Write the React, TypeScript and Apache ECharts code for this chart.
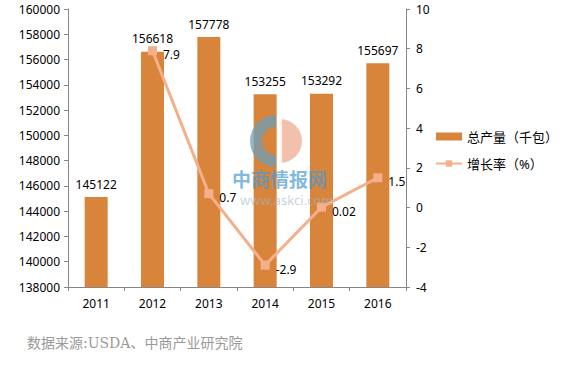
import React, { useEffect, useRef } from "react";
import * as echarts from "echarts";

const categories = ["2011", "2012", "2013", "2014", "2015", "2016"];
const production = [145122, 156618, 157778, 153255, 153292, 155697];
const growth: (number | null)[] = [null, 7.9, 0.7, -2.9, 0.02, 1.5];
const seriesNames = ["总产量（千包）", "增长率（%）"];
const sourceText = "数据来源:USDA、中商产业研究院";

export default function App() {
  const ref = useRef<HTMLDivElement>(null);
  useEffect(() => {
    if (!ref.current) return;
    const chart = echarts.init(ref.current, null, { renderer: "svg" });
    const font = "'Noto Sans', 'Noto Sans CJK SC', sans-serif";
    chart.setOption({
      animation: false,
      backgroundColor: "#ffffff",
      textStyle: { fontFamily: font },
      grid: { left: 68, right: 174, top: 9, bottom: 80 },
      legend: {
        orient: "vertical",
        left: 430,
        top: 125,
        itemWidth: 26,
        itemHeight: 8,
        itemGap: 14,
        textStyle: { fontSize: 13, color: "#000", fontFamily: font },
        data: [
          { name: seriesNames[0], icon: "rect" },
          { name: seriesNames[1] },
        ],
      },
      xAxis: {
        type: "category",
        data: categories,
        axisLine: { onZero: false, lineStyle: { color: "#868686" } },
        axisTick: { show: true, length: 4, lineStyle: { color: "#868686" } },
        axisLabel: { color: "#000", fontSize: 12, margin: 10 },
      },
      yAxis: [
        {
          type: "value",
          min: 138000,
          max: 160000,
          interval: 2000,
          splitLine: { show: false },
          axisLine: { show: true, lineStyle: { color: "#868686" } },
          axisTick: { show: true, length: 4, lineStyle: { color: "#868686" } },
          axisLabel: { color: "#000", fontSize: 12, margin: 8, formatter: (v: number) => String(v) },
        },
        {
          type: "value",
          min: -4,
          max: 10,
          interval: 2,
          splitLine: { show: false },
          axisLine: { show: true, lineStyle: { color: "#868686" } },
          axisTick: { show: true, length: 4, lineStyle: { color: "#868686" } },
          axisLabel: { color: "#000", fontSize: 12, margin: 10 },
        },
      ],
      series: [
        {
          name: seriesNames[0],
          type: "bar",
          data: production,
          barWidth: 23,
          itemStyle: { color: "#d9843b" },
          label: { show: true, position: "top", color: "#000", fontSize: 12, distance: 7 },
          z: 2,
        },
        {
          name: seriesNames[1],
          type: "line",
          yAxisIndex: 1,
          data: growth,
          symbol: "rect",
          symbolSize: 9,
          lineStyle: { color: "#f4b08a", width: 3 },
          itemStyle: { color: "#f4b08a" },
          label: { show: true, position: "right", color: "#000", fontSize: 12, distance: 6, offset: [0, 4] },
          z: 3,
        },
      ],
      graphic: [
        {
          type: "text",
          left: 27,
          top: 336,
          style: {
            text: sourceText,
            fill: "#9a9a9a",
            fontSize: 14,
            fontFamily: "'DejaVu Serif', 'Noto Sans CJK SC', serif",
          },
        },
        {
          type: "sector",
          z: 100,
          shape: { cx: 276, cy: 141, r0: 14, r: 26, startAngle: Math.PI / 2, endAngle: (3 * Math.PI) / 2 },
          style: { fill: "#6f9db8", opacity: 0.75 },
        },
        {
          type: "sector",
          z: 100,
          shape: { cx: 280, cy: 141, r0: 0, r: 22, startAngle: -Math.PI / 2, endAngle: Math.PI / 2 },
          style: { fill: "#f2b5a0", opacity: 0.85 },
        },
        {
          type: "rect",
          z: 101,
          shape: { x: 279, y: 116, width: 3, height: 50 },
          style: { fill: "#ffffff", opacity: 0.8 },
        },
        {
          type: "text",
          z: 100,
          x: 232,
          y: 169,
          style: { text: "中商情报网", fill: "#4a9ad0", fontSize: 19, fontWeight: "bold", opacity: 0.7, fontFamily: "'Noto Sans CJK SC', sans-serif" },
        },
        {
          type: "text",
          z: 100,
          x: 240,
          y: 193,
          style: { text: "www.askci.com", fill: "#9bb7c8", fontSize: 13, opacity: 0.6, fontFamily: font },
        },
      ],
    });
    return () => chart.dispose();
  }, []);
  return (
    <div
      ref={ref}
      style={{ position: "fixed", left: 0, top: 0, width: 580, height: 367 }}
    />
  );
}
